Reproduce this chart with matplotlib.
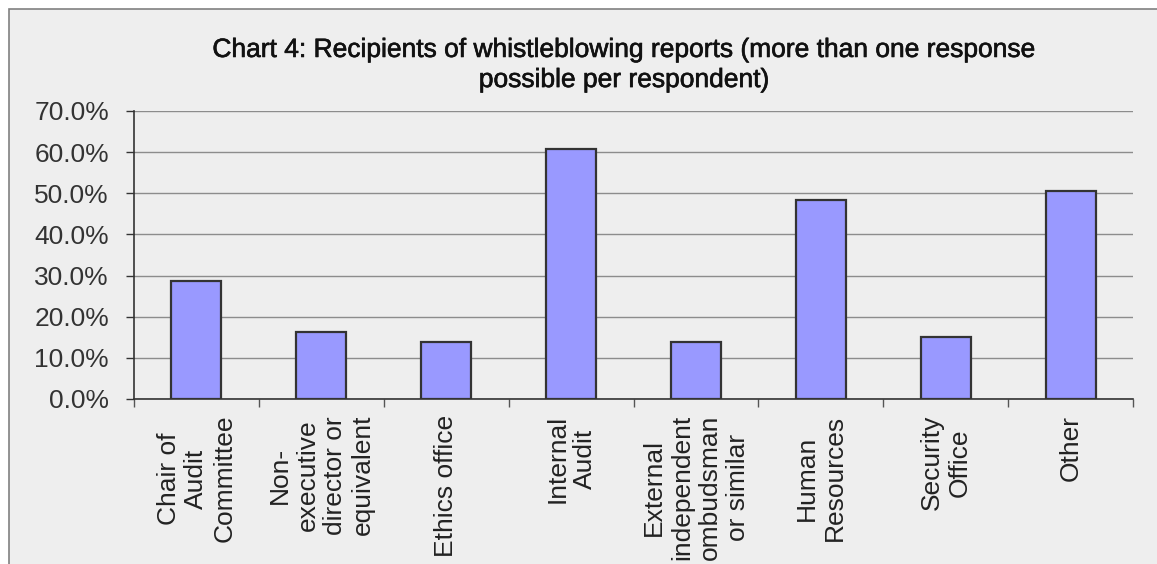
import matplotlib.pyplot as plt
import matplotlib.patheffects as pe
from matplotlib.patches import Rectangle
from matplotlib.ticker import FuncFormatter, FixedLocator
import numpy as np

plt.rcParams['font.family'] = ['Liberation Sans', 'DejaVu Sans']

# recipients and share of respondents (%)
recipients = ['Chair of\nAudit\nCommittee',
              'Non-\nexecutive\ndirector or\nequivalent',
              'Ethics office',
              'Internal\nAudit',
              'External\nindependent\nombudsman\nor similar',
              'Human\nResources',
              'Security\nOffice',
              'Other']
share = [28.7, 16.2, 13.8, 60.8, 13.8, 48.4, 15.0, 50.6]
y_ticks = [0, 10, 20, 30, 40, 50, 60, 70]

W, H = 1157, 564
fig = plt.figure(figsize=(W / 100, H / 100), dpi=100)
fig.patch.set_facecolor('white')

# grey chart area with thin frame
fig.add_artist(Rectangle((8.5 / W, -0.1), 1.2, 1 - 9.5 / H + 0.1,
                         transform=fig.transFigure, facecolor='#eeeeee',
                         edgecolor='#808080', linewidth=1.2, zorder=0))

ax = fig.add_axes([134 / W, 1 - 399 / H, (1133 - 134) / W, (399 - 111) / H])
ax.set_facecolor('none')

x = np.arange(len(recipients))
ax.bar(x, share, width=0.4, color='#9999ff', edgecolor='#333333',
       linewidth=1.6, zorder=3)

ax.set_xlim(-0.5, len(recipients) - 0.5)
ax.set_ylim(0, 70)
ax.set_yticks(y_ticks)
ax.yaxis.set_major_formatter(FuncFormatter(lambda v, p: f'{v:.1f}%'))
ax.grid(axis='y', color='#8c8c8c', linewidth=1.0, zorder=1)

ax.set_xticks(x)
ax.set_xticklabels(recipients, rotation=90, ha='center', va='top',
                   multialignment='center')
ax.xaxis.set_minor_locator(FixedLocator(np.arange(len(recipients) + 1) - 0.5))
ax.tick_params(axis='x', which='major', length=0, pad=11.5,
               labelsize=19, labelcolor='#222222')
ax.tick_params(axis='x', which='minor', length=6, width=1, color='#555555')
ax.tick_params(axis='y', length=5.5, width=1, color='#333333', pad=12.5,
               labelsize=19, labelcolor='#333333')

for side in ['top', 'right']:
    ax.spines[side].set_visible(False)
for side in ['left', 'bottom']:
    ax.spines[side].set_color('#333333')
    ax.spines[side].set_linewidth(1.2)

fig.text(624 / W, 1 - 65 / H,
         'Chart 4: Recipients of whistleblowing reports (more than one response\npossible per respondent)',
         ha='center', va='center', fontsize=19, color='#111111',
         linespacing=1.32,
         path_effects=[pe.withStroke(linewidth=0.45, foreground='#111111')])

fig.savefig('out.png', dpi=100)
